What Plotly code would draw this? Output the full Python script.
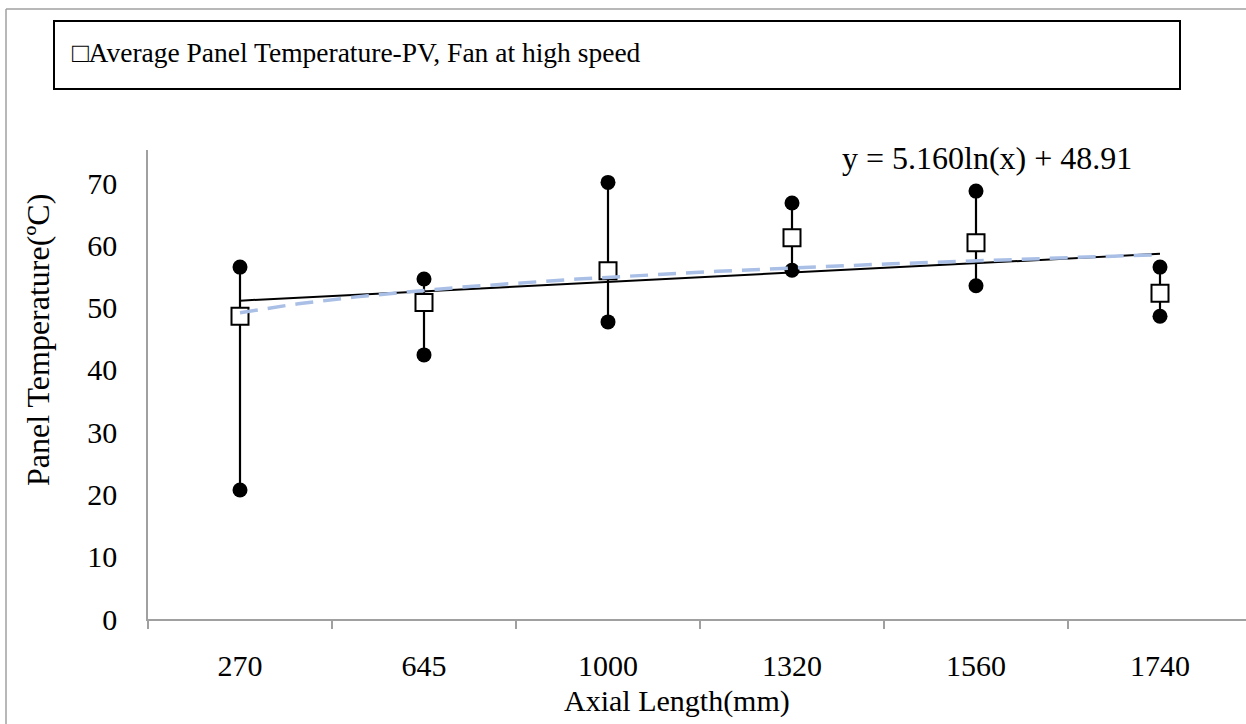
import numpy as np
import plotly.graph_objects as go

# ---- data ----
categories = ["270", "645", "1000", "1320", "1560", "1740"]
avg_temp = [48.6, 50.8, 55.9, 61.2, 60.4, 52.3]
high_temp = [56.5, 54.6, 70.1, 66.8, 68.7, 56.5]
low_temp = [20.7, 42.4, 47.7, 56.0, 53.5, 48.6]
y_ticks = [0, 10, 20, 30, 40, 50, 60, 70]
legend_text = "\u25a1Average Panel Temperature-PV, Fan at high speed"
equation_text = "y = 5.160ln(x) + 48.91"
x_title = "Axial Length(mm)"
y_title = "Panel Temperature(\u00baC)"

# ---- layout geometry (pixels) ----
W, H = 1246, 724
L, R, T, B = 148, 0, 150, 105
PW, PH = W - L - R, H - T - B
X_MAX = -0.5 + PW / 184.0
Y_MAX = 75.3
FONT = "Liberation Serif, Times New Roman, serif"
AXIS_GRAY = "#a0a0a0"


def px(xp):
    return (xp - L) / PW


def py(yp):
    return (H - B - yp) / PH


avg = np.array(avg_temp)
idx = np.arange(len(categories))
# trendlines fitted from the averages (Excel-style: x = 1..n)
lin_coef = np.polyfit(idx + 1, avg, 1)
log_coef = np.polyfit(np.log(idx + 1), avg, 1)
xs = np.linspace(0, len(categories) - 1, 80)
lin_y = np.polyval(lin_coef, xs + 1)
log_y = np.polyval(log_coef, np.log(xs + 1))

fig = go.Figure()

# whiskers (low-high range) drawn as error bars around the average
fig.add_trace(go.Scatter(
    x=categories, y=avg_temp, mode="markers",
    marker=dict(size=1, color="rgba(0,0,0,0)"),
    error_y=dict(type="data", symmetric=False,
                 array=[h - a for h, a in zip(high_temp, avg_temp)],
                 arrayminus=[a - l for a, l in zip(avg_temp, low_temp)],
                 width=0, thickness=2.2, color="black"),
    showlegend=False, hoverinfo="skip"))

fig.add_trace(go.Scatter(x=categories, y=high_temp, mode="markers",
                         marker=dict(symbol="circle", size=15, color="black"),
                         showlegend=False))
fig.add_trace(go.Scatter(x=categories, y=low_temp, mode="markers",
                         marker=dict(symbol="circle", size=15, color="black"),
                         showlegend=False))
fig.add_trace(go.Scatter(x=categories, y=avg_temp, mode="markers",
                         marker=dict(symbol="square", size=17, color="white",
                                     line=dict(color="black", width=2)),
                         showlegend=False))

# trendlines on a hidden linear overlay axis aligned with category positions
fig.add_trace(go.Scatter(x=xs, y=lin_y, mode="lines", xaxis="x2",
                         line=dict(color="black", width=2),
                         showlegend=False))
fig.add_trace(go.Scatter(x=xs, y=log_y, mode="lines", xaxis="x2",
                         line=dict(color="#a9bfe6", width=3.5, dash="18px,10px"),
                         showlegend=False))

annotations = [
    dict(x=px(38), y=py(340), xref="paper", yref="paper", text=y_title,
         textangle=-90, showarrow=False, font=dict(family=FONT, size=32, color="black"),
         xanchor="center", yanchor="middle"),
    dict(x=px(677), y=py(701), xref="paper", yref="paper", text=x_title,
         showarrow=False, font=dict(family=FONT, size=30, color="black"),
         xanchor="center", yanchor="middle"),
    dict(x=px(987), y=py(158), xref="paper", yref="paper", text=equation_text,
         showarrow=False, font=dict(family=FONT, size=32, color="black"),
         xanchor="center", yanchor="middle"),
    dict(x=px(70), y=py(52), xref="paper", yref="paper", text=legend_text,
         showarrow=False, font=dict(family=FONT, size=27.5, color="black"),
         xanchor="left", yanchor="middle"),
]

shapes = [
    # outer chart border (left and top visible)
    dict(type="line", xref="paper", yref="paper", x0=px(6), x1=px(6),
         y0=py(9), y1=py(H + 5), line=dict(color=AXIS_GRAY, width=1.5)),
    dict(type="line", xref="paper", yref="paper", x0=px(6), x1=px(W + 5),
         y0=py(9), y1=py(9), line=dict(color=AXIS_GRAY, width=1.5)),
    # legend box
    dict(type="rect", xref="paper", yref="paper", x0=px(54), x1=px(1180),
         y0=py(89), y1=py(21), line=dict(color="black", width=2),
         fillcolor="white"),
]

fig.update_layout(
    width=W, height=H,
    margin=dict(l=L, r=R, t=T, b=B, pad=0),
    paper_bgcolor="white", plot_bgcolor="white",
    font=dict(family=FONT, size=30, color="black"),
    xaxis=dict(type="category", categoryorder="array", categoryarray=categories,
               range=[-0.5, X_MAX], tickson="boundaries", ticks="outside",
               ticklen=8, tickwidth=1.5, tickcolor=AXIS_GRAY,
               showline=True, linecolor=AXIS_GRAY, linewidth=1.5,
               showgrid=False, zeroline=False, ticklabelstandoff=19,
               tickfont=dict(family=FONT, size=30, color="black")),
    xaxis2=dict(overlaying="x", range=[-0.5, X_MAX], visible=False,
                showgrid=False, zeroline=False),
    yaxis=dict(range=[0, Y_MAX], tickvals=y_ticks, ticks="",
               showline=True, linecolor=AXIS_GRAY, linewidth=1.5,
               showgrid=False, zeroline=False, ticklabelstandoff=23,
               tickfont=dict(family=FONT, size=30, color="black")),
    annotations=annotations,
    shapes=shapes,
    showlegend=False,
)

fig.write_html("out.html")
